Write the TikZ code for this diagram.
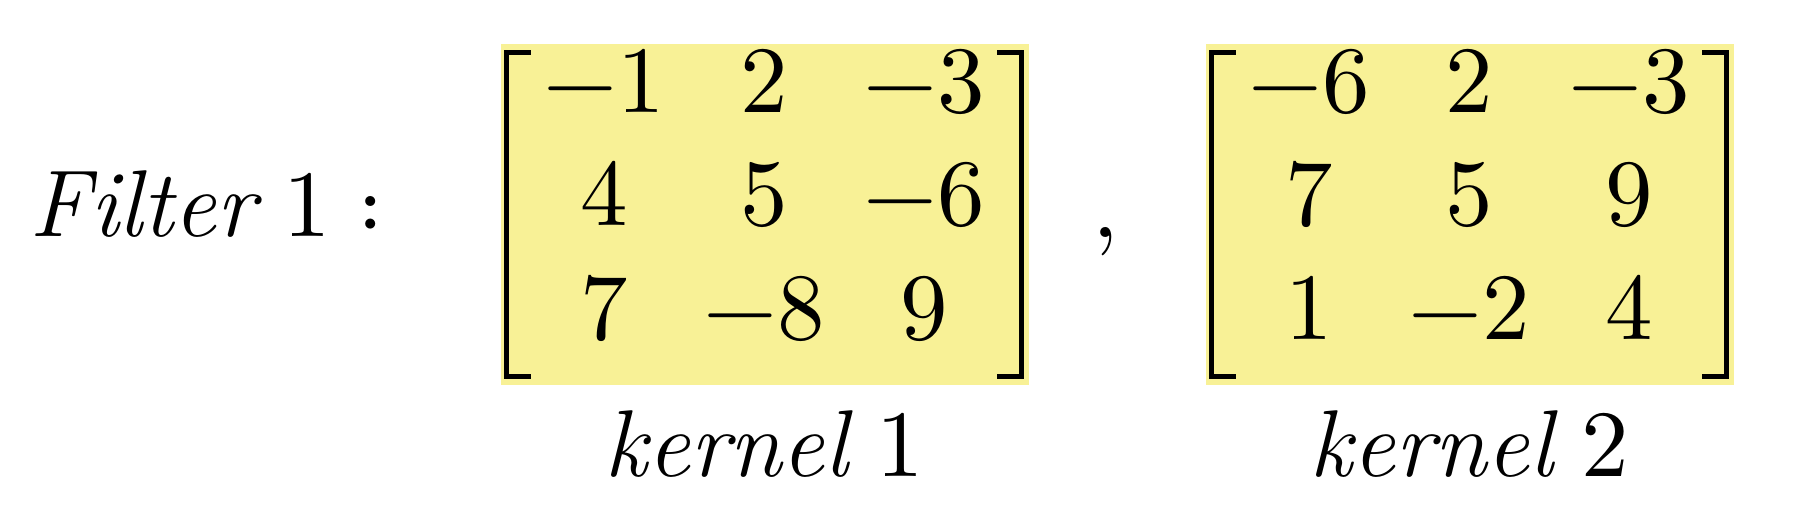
\documentclass[tikz,border=0pt]{standalone}
\usepackage{fontspec}
\usepackage{unicode-math}
\usetikzlibrary{matrix,positioning}
\definecolor{kernelyellow}{HTML}{F8F196}
\tikzset{
  kernel/.style={matrix of math nodes, fill=kernelyellow, inner xsep=0.24cm, inner ysep=0pt,
    nodes={minimum width=1.6cm, minimum height=1.135cm, inner sep=0pt, text height=0.65em, text depth=0pt}},
  bracket/.style={line width=1.4pt},
  kernellabel/.style={inner sep=0pt}
}
\begin{document}
\begin{tikzpicture}[font=\fontsize{27}{33}\selectfont]
  \useasboundingbox (0,0) rectangle (18.2,5.2);

  % Filter label
  \node[anchor=base, inner sep=0pt] (filter) at (2.07,2.83) {$\mathit{Filter}\ 1:$};

  % Kernels
  \matrix (kone) [kernel] at (7.645,3.055) {
    -1 & 2 & -3 \\
    4 & 5 & -6 \\
    7 & -8 & 9 \\
  };
  \node[anchor=base, inner sep=0pt] (comma) at (11.06,2.82) {$,$};
  \matrix (ktwo) [kernel] at (14.695,3.055) {
    -6 & 2 & -3 \\
    7 & 5 & 9 \\
    1 & -2 & 4 \\
  };

  % Brackets
  \foreach \k in {kone,ktwo}
    {
      \draw[bracket] ([xshift=0.31cm,yshift=-0.09cm]\k.north west) -- ++(-0.24,0) |- ([xshift=0.31cm,yshift=0.09cm]\k.south west);
      \draw[bracket] ([xshift=-0.32cm,yshift=-0.09cm]\k.north east) -- ++(0.24,0) |- ([xshift=-0.32cm,yshift=0.09cm]\k.south east);
    }

  % Labels
  \node[kernellabel, below=0.24cm of kone] (lone) {$\mathit{kernel}\ 1$};
  \node[kernellabel, below=0.24cm of ktwo] (ltwo) {$\mathit{kernel}\ 2$};
\end{tikzpicture}
\end{document}
